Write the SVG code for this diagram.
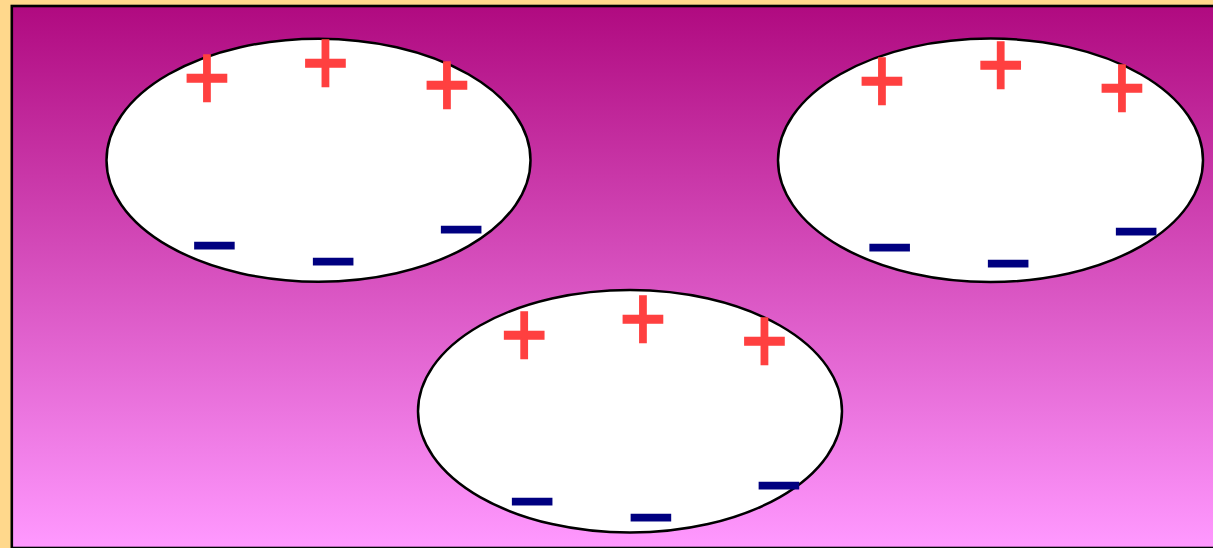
<svg xmlns="http://www.w3.org/2000/svg" width="1213" height="548" viewBox="0 0 1213 548">
<defs>
<linearGradient id="bg" x1="0" y1="6" x2="0" y2="548" gradientUnits="userSpaceOnUse">
<stop offset="0" stop-color="#B00A80"/>
<stop offset="1" stop-color="#FF99FF"/>
</linearGradient>
</defs>
<style>
.cell{fill:#FFFFFF;stroke:#000000;stroke-width:2.5}
.p{font-family:"Liberation Sans",Arial,sans-serif;font-size:78px;fill:#FF4040;stroke:#FF4040;stroke-width:2;text-anchor:middle}
.m{font-family:"Liberation Sans",Arial,sans-serif;font-weight:bold;font-size:68px;fill:#000080;stroke:#000080;stroke-width:3.9;text-anchor:middle}
</style>
<rect x="0" y="0" width="1213" height="548" fill="#FFD88C"/>
<rect x="11.8" y="6" width="1215" height="542" fill="url(#bg)" stroke="#000000" stroke-width="2.6"/>
<g id="cell1">
<ellipse class="cell" cx="318.5" cy="160.2" rx="212" ry="121.5"/>
<text class="p" transform="translate(207,78.3) scale(1.02,1.19)" y="26.1">+</text>
<text class="p" transform="translate(325.5,62.5) scale(1.02,1.19)" y="26.1">+</text>
<text class="p" transform="translate(447,85.2) scale(1.02,1.19)" y="26.1">+</text>
<text class="m" transform="translate(214.5,246) scale(1.08,0.72)" y="18.2">–</text>
<text class="m" transform="translate(333.3,262) scale(1.08,0.72)" y="18.2">–</text>
<text class="m" transform="translate(461.3,229.7) scale(1.08,0.72)" y="18.2">–</text>
</g>
<g id="cell2">
<ellipse class="cell" cx="990.5" cy="160.3" rx="212.5" ry="121.7"/>
<text class="p" transform="translate(882,81.3) scale(1.02,1.19)" y="26.1">+</text>
<text class="p" transform="translate(1000.7,65.3) scale(1.02,1.19)" y="26.1">+</text>
<text class="p" transform="translate(1122,87.8) scale(1.02,1.19)" y="26.1">+</text>
<text class="m" transform="translate(889.7,248.3) scale(1.08,0.72)" y="18.2">–</text>
<text class="m" transform="translate(1008.2,264.3) scale(1.08,0.72)" y="18.2">–</text>
<text class="m" transform="translate(1136.2,232.3) scale(1.08,0.72)" y="18.2">–</text>
</g>
<g id="cell3">
<ellipse class="cell" cx="630" cy="411.3" rx="212" ry="121.3"/>
<text class="p" transform="translate(524.3,334.5) scale(1.02,1.19)" y="26.1">+</text>
<text class="p" transform="translate(643,318.5) scale(1.02,1.19)" y="26.1">+</text>
<text class="p" transform="translate(764.5,341.2) scale(1.02,1.19)" y="26.1">+</text>
<text class="m" transform="translate(532.2,501.8) scale(1.08,0.72)" y="18.2">–</text>
<text class="m" transform="translate(651,517.8) scale(1.08,0.72)" y="18.2">–</text>
<text class="m" transform="translate(779,485.8) scale(1.08,0.72)" y="18.2">–</text>
</g>
</svg>
